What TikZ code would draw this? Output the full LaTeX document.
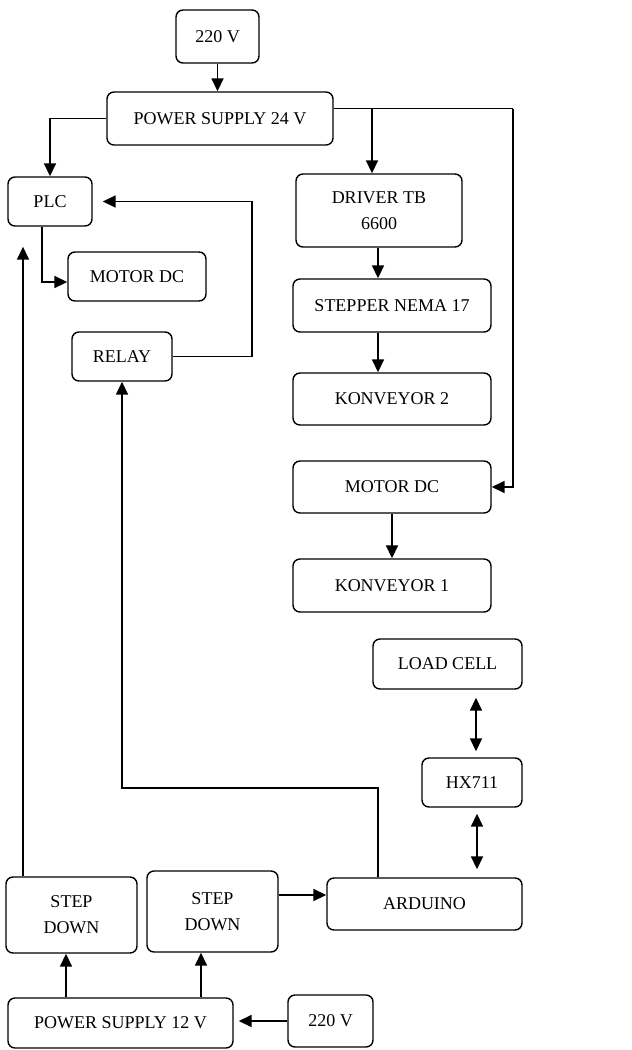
\documentclass[tikz,border=0pt]{standalone}
\usepackage{fontspec}
\setmainfont{Liberation Serif}
\usetikzlibrary{arrows.meta}

\tikzset{
  box/.style={draw, line width=1.4pt, rounded corners=7pt, align=center, inner sep=0pt,
    font=\fontsize{18}{26}\selectfont},
  link/.style={line width=1.7pt, -{Triangle[length=13pt,width=12pt]}},
  biline/.style={line width=1.7pt, {Triangle[length=13pt,width=12pt]}-{Triangle[length=13pt,width=12pt]}}
}

\begin{document}
\begin{tikzpicture}[x=1pt, y=-1pt]
  \useasboundingbox (0,0) rectangle (632,1050);
  % power side 24 V
  \node[box, minimum width=83pt, minimum height=53pt] (acTop) at (217.5,36.5) {220 V};
  \node[box, minimum width=226pt, minimum height=53pt] (ps24) at (220,118.5) {POWER SUPPLY 24 V};
  \node[box, minimum width=84pt, minimum height=49pt] (plc) at (50,201.5) {PLC};
  \node[box, minimum width=166pt, minimum height=73pt] (driver) at (379,210.5) {DRIVER TB\\6600};
  \node[box, minimum width=138pt, minimum height=49pt] (motorA) at (137,276.5) {MOTOR DC};
  \node[box, minimum width=100pt, minimum height=49pt] (relay) at (122,356.5) {RELAY};
  \node[box, minimum width=198pt, minimum height=53pt] (stepper) at (392,305.5) {STEPPER NEMA 17};
  \node[box, minimum width=198pt, minimum height=52pt] (konv2) at (392,399) {KONVEYOR 2};
  \node[box, minimum width=198pt, minimum height=52pt] (motorB) at (392,487) {MOTOR DC};
  \node[box, minimum width=198pt, minimum height=53pt] (konv1) at (392,585.5) {KONVEYOR 1};
  % sensor side 12 V
  \node[box, minimum width=149pt, minimum height=50pt] (load) at (447.5,664) {LOAD CELL};
  \node[box, minimum width=100pt, minimum height=49pt] (hx) at (472,782.5) {HX711};
  \node[box, minimum width=195pt, minimum height=52pt] (arduino) at (424.5,904) {ARDUINO};
  \node[box, minimum width=131pt, minimum height=76pt] (sdA) at (71.5,915) {STEP\\DOWN};
  \node[box, minimum width=131pt, minimum height=81pt] (sdB) at (212.5,911.5) {STEP\\DOWN};
  \node[box, minimum width=225pt, minimum height=50pt] (ps12) at (120.5,1023) {POWER SUPPLY 12 V};
  \node[box, minimum width=85pt, minimum height=52pt] (acBot) at (330.5,1021) {220 V};

  \coordinate (tap) at (372,108.5);
  \coordinate (rside) at (513,108.5);

  \draw[link] (acTop.south) -- (acTop.south |- ps24.north);
  \draw[link] (ps24.west) -| (plc.north);
  \draw[line width=1.7pt] (ps24.east |- tap) -- (rside);
  \draw[link] (tap) -- (tap |- driver.north);
  \draw[link] (rside) |- (motorB.east);
  \draw[link] ([xshift=-8pt]plc.south) |- ([yshift=-5.5pt]motorA.west);
  \draw[link, shorten >=10pt] (relay.east) -- ++(79,0) |- (plc.east);
  \draw[link] (driver.south -| 378,0) -- (stepper.north -| 378,0);
  \draw[link] ([xshift=-14pt]stepper.south) -- ([xshift=-14pt]konv2.north);
  \draw[link] (motorB) -- (konv1);

  \draw[biline, shorten <=6pt, shorten >=8pt] ([xshift=4pt]hx.north) -- ([xshift=4pt]hx.north |- load.south);
  \draw[biline, shorten <=6pt, shorten >=8pt] ([xshift=5pt]hx.south) -- ([xshift=5pt]hx.south |- arduino.north);
  \draw[link] ([yshift=16.5pt]sdB.east) -- ([yshift=16.5pt]sdB.east -| arduino.west);
  \draw[link] ([xshift=-46.5pt]arduino.north) -- ++(0,-89) -| (relay.south);
  \draw[link, shorten >=20pt] ([xshift=-48.5pt]sdA.north) -- ([xshift=-48.5pt]sdA.north |- plc.south);
  \draw[link] ([xshift=-5.5pt]sdA.south |- ps12.north) -- ([xshift=-5.5pt]sdA.south);
  \draw[link] ([xshift=-11.5pt]sdB.south |- ps12.north) -- ([xshift=-11.5pt]sdB.south);
  \draw[link, shorten >=5pt] (acBot.west) -- (acBot.west -| ps12.east);
\end{tikzpicture}
\end{document}
